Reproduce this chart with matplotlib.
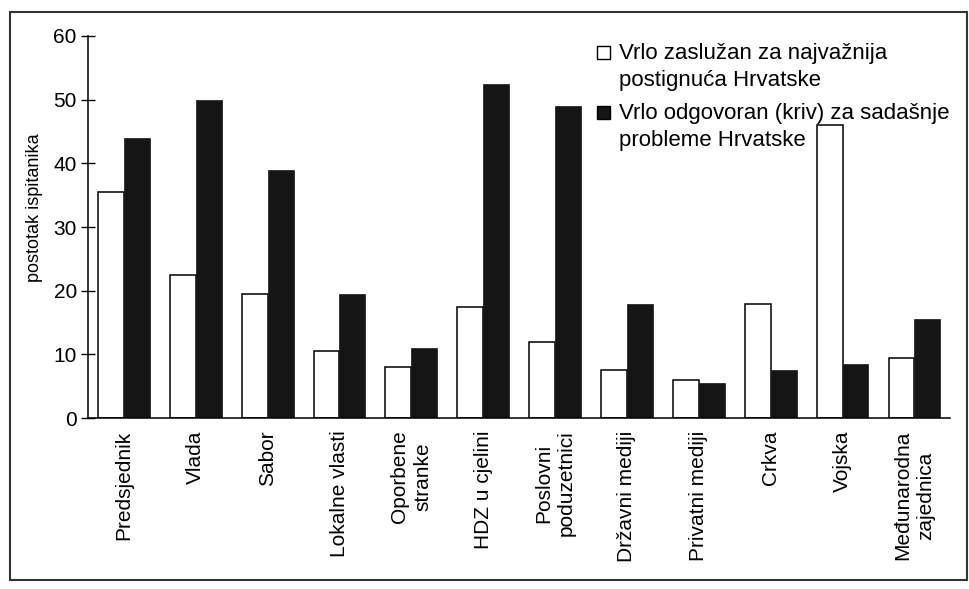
import numpy as np
import matplotlib.pyplot as plt
from matplotlib.patches import Rectangle

# podaci ocitani sa slike (postotak ispitanika)
kategorije = ['Predsjednik', 'Vlada', 'Sabor', 'Lokalne vlasti', 'Oporbene\nstranke',
              'HDZ u cjelini', 'Poslovni\npoduzetnici', 'Državni mediji', 'Privatni mediji',
              'Crkva', 'Vojska', 'Međunarodna\nzajednica']
zasluzan = [35.5, 22.5, 19.5, 10.5, 8.0, 17.5, 12.0, 7.5, 6.0, 18.0, 46.0, 9.5]
odgovoran = [44.0, 50.0, 39.0, 19.5, 11.0, 52.5, 49.0, 18.0, 5.5, 7.5, 8.5, 15.5]
y_ticks = [0, 10, 20, 30, 40, 50, 60]
legenda = ['Vrlo zaslužan za najvažnija\npostignuća Hrvatske',
           'Vrlo odgovoran (kriv) za sadašnje\nprobleme Hrvatske']
boje = ['white', '#151515']

plt.rcParams['font.family'] = ['Liberation Sans', 'DejaVu Sans']

W, H = 970, 589
fig = plt.figure(figsize=(W / 100, H / 100), dpi=100)
ax = fig.add_axes([0.0907, 0.290, 0.889, 0.649])

x = np.arange(len(kategorije))
w = 0.36
ax.bar(x - w / 2, zasluzan, w, color=boje[0], edgecolor='black', linewidth=1.1)
ax.bar(x + w / 2, odgovoran, w, color=boje[1], edgecolor=boje[1], linewidth=0.5)

ax.set_xlim(-0.5, len(kategorije) - 0.5)
ax.set_ylim(0, 60)
ax.set_yticks(y_ticks)
ax.tick_params(axis='y', direction='inout', length=10, width=1, labelsize=15, pad=3)
ax.set_xticks(x)
ax.set_xticklabels(kategorije, rotation=90, fontsize=15, va='top', ha='center',
                   multialignment='center', linespacing=1.25)
ax.tick_params(axis='x', length=0, pad=9)
for s in ['top', 'right']:
    ax.spines[s].set_visible(False)
for s in ['left', 'bottom']:
    ax.spines[s].set_linewidth(1.1)

fig.text(35 / W, 1 - 208 / H, 'postotak ispitanika', rotation=90,
         ha='center', va='center', fontsize=13)

# legenda: kvadratic poravnat s prvim retkom teksta
sq_dno = [59, 119]
for i, (tekst, boja) in enumerate(zip(legenda, boje)):
    fig.patches.append(Rectangle((597 / W, 1 - sq_dno[i] / H), 13 / W, 13 / H,
                                 transform=fig.transFigure, facecolor=boja,
                                 edgecolor='black', linewidth=1))
    # va='baseline' kod vise redaka ravna zadnji redak
    fig.text(619 / W, 1 - (sq_dno[i] + 27) / H, tekst, ha='left', va='baseline',
             fontsize=16, linespacing=1.35)

# okvir skenirane slike
fig.patches.append(Rectangle((0.0103, 0.0153), 0.9866, 0.964, transform=fig.transFigure,
                             fill=False, edgecolor='#333333', linewidth=1.5))

fig.savefig('out.png', dpi=100)
